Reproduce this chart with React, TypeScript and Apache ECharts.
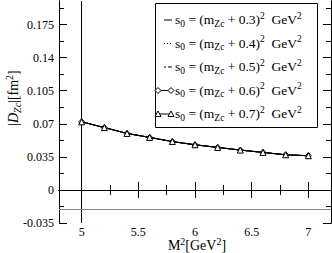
import React, { useEffect, useRef } from "react";
import * as echarts from "echarts";

const xValues = [5, 5.2, 5.4, 5.6, 5.8, 6, 6.2, 6.4, 6.6, 6.8, 7];
const s03 = [0.0721, 0.066, 0.0598, 0.0556, 0.0512, 0.0478, 0.045, 0.0422, 0.0397, 0.0372, 0.0362];
const s04 = [0.0721, 0.066, 0.0598, 0.0556, 0.0512, 0.0478, 0.045, 0.0422, 0.0397, 0.0372, 0.0362];
const s05 = [0.0721, 0.066, 0.0598, 0.0556, 0.0512, 0.0478, 0.045, 0.0422, 0.0397, 0.0372, 0.0362];
const s06 = [0.0721, 0.066, 0.0598, 0.0556, 0.0512, 0.0478, 0.045, 0.0422, 0.0397, 0.0372, 0.0362];
const s07 = [0.0721, 0.066, 0.0598, 0.0556, 0.0512, 0.0478, 0.045, 0.0422, 0.0397, 0.0372, 0.0362];
const offsets = ["0.3", "0.4", "0.5", "0.6", "0.7"];
const xMajor = [5, 5.5, 6, 6.5, 7];
const xMinor = [5.25, 5.75, 6.25, 6.75];
const yMajor = [-0.035, 0, 0.035, 0.07, 0.105, 0.14, 0.175];
const yMinor = [-0.0175, 0.0175, 0.0525, 0.0875, 0.1225, 0.1575, 0.1925];
const yLabels = ["-0.035", "0", "0.035", "0.07", "0.105", "0.14", "0.175"];
const verticalLineX = 5;
const horizontalLineY = -0.017;

const FONT = "Liberation Serif";

export default function App() {
  const ref = useRef<HTMLDivElement>(null);
  useEffect(() => {
    if (!ref.current) return;
    const chart = echarts.init(ref.current, null, { renderer: "svg" });
    const names = offsets.map((o) => "s0=(mZc+" + o + ")^2");
    const pair = (ys: number[]) => xValues.map((x, i) => [x, ys[i]]);
    const seriesData = [s03, s04, s05, s06, s07];
    const lineTypes: any[] = ["solid", [1, 2], [4, 2, 1, 2], "solid", "solid"];
    const symbols = ["none", "none", "none", "diamond", "triangle"];
    const axisLine = { show: true, lineStyle: { color: "#000", width: 1 } };
    const mkX = (pos: string, vals: number[], len: number, label: boolean) => ({
      type: "value",
      min: 4.8,
      max: 7.2,
      position: pos,
      axisLine,
      splitLine: { show: false },
      axisTick: { show: true, inside: true, length: len, customValues: vals, lineStyle: { color: "#000", width: 1 } },
      axisLabel: label
        ? { show: true, customValues: vals, color: "#000", fontFamily: FONT, fontSize: 12, margin: 3 }
        : { show: false },
    });
    const mkY = (pos: string, vals: number[], len: number, label: boolean) => ({
      type: "value",
      min: -0.035,
      max: 0.2,
      position: pos,
      axisLine,
      splitLine: { show: false },
      axisTick: { show: true, inside: true, length: len, customValues: vals, lineStyle: { color: "#000", width: 1 } },
      axisLabel: label
        ? {
            show: true,
            customValues: vals,
            color: "#000",
            fontFamily: FONT,
            fontSize: 12,
            margin: 5,
            formatter: (v: number) => {
              const i = yMajor.findIndex((m) => Math.abs(m - v) < 1e-9);
              return i >= 0 ? yLabels[i] : "";
            },
          }
        : { show: false },
    });
    const richText = {
      n: { fontFamily: FONT, fontSize: 13.5, fill: "#000", lineHeight: 18, verticalAlign: "middle" },
      sub: { fontFamily: FONT, fontSize: 9.5, fill: "#000", verticalAlign: "bottom", lineHeight: 9 },
      sup: { fontFamily: FONT, fontSize: 9.5, fill: "#000", verticalAlign: "top", lineHeight: 9 },
    };
    // manual legend
    const legendTop = 3;
    const legendLeft = 155;
    const rowY = [19.5, 43, 66.5, 90, 113.5];
    const legendEls: any[] = [
      {
        type: "rect",
        shape: { x: legendLeft + 0.5, y: legendTop + 0.5, width: 162, height: 124 },
        style: { fill: "#fff", stroke: "#000", lineWidth: 1 },
        z: 10,
      },
    ];
    const diamond = (cx: number, cy: number) => ({
      type: "polygon",
      shape: { points: [[cx, cy - 3], [cx + 3, cy], [cx, cy + 3], [cx - 3, cy]] },
      style: { fill: "#fff", stroke: "#000", lineWidth: 1 },
      z: 12,
    });
    const tri = (cx: number, cy: number) => ({
      type: "polygon",
      shape: { points: [[cx, cy - 3], [cx + 3, cy + 2.5], [cx - 3, cy + 2.5]] },
      style: { fill: "#fff", stroke: "#000", lineWidth: 1 },
      z: 12,
    });
    offsets.forEach((o, i) => {
      const cy = rowY[i];
      const x1 = i < 3 ? 164 : 158;
      legendEls.push({
        type: "line",
        shape: { x1, y1: cy + 0.5, x2: 172, y2: cy + 0.5 },
        style: { stroke: "#000", lineWidth: 1, lineDash: i === 1 ? [1, 2] : i === 2 ? [2, 2, 4, 2] : null },
        z: 11,
      });
      if (i === 3) legendEls.push(diamond(158, cy + 0.5), diamond(171, cy + 0.5));
      if (i === 4) legendEls.push(tri(158, cy + 0.5), tri(171, cy + 0.5));
      legendEls.push({
        type: "text",
        x: 175,
        y: cy,
        z: 11,
        style: {
          text: "{n|s}{sub|0}{n| = (m}{sub|Zc}{n| + " + o + ")}{sup|2}{n|  GeV}{sup|2}",
          verticalAlign: "middle",
          align: "left",
          rich: richText,
        },
      });
    });
    chart.setOption({
      animation: false,
      backgroundColor: "#fff",
      grid: { left: 59, right: 1, top: 1, bottom: 30, containLabel: false },
      xAxis: [mkX("bottom", xMajor, 8, true), mkX("bottom", xMinor, 5, false), mkX("top", xMajor, 8, false), mkX("top", xMinor, 5, false)],
      yAxis: [mkY("left", yMajor, 8, true), mkY("left", yMinor, 5, false), mkY("right", yMajor, 8, false), mkY("right", yMinor, 5, false)],
      series: seriesData.map((d, i) => ({
        type: "line",
        name: names[i],
        xAxisIndex: 0,
        yAxisIndex: 0,
        data: pair(d),
        symbol: symbols[i],
        symbolSize: 6,
        showSymbol: symbols[i] !== "none",
        lineStyle: { color: "#000", width: 1, type: lineTypes[i] },
        itemStyle: { color: "#fff", borderColor: "#000", borderWidth: 1 },
        z: 2 + i,
        markLine:
          i === 0
            ? {
                silent: true,
                symbol: "none",
                label: { show: false },
                data: [
                  { xAxis: verticalLineX, lineStyle: { color: "#000", width: 1, type: "solid" } },
                  { yAxis: horizontalLineY, lineStyle: { color: "#888", width: 1, type: "solid" } },
                ],
              }
            : undefined,
      })),
      graphic: [
        ...legendEls,
        {
          type: "text",
          x: 13,
          y: 98,
          rotation: Math.PI / 2,
          style: {
            text: "{n||}{i|D}{si|Zc}{n||[fm}{sup|2}{n|]}",
            align: "center",
            verticalAlign: "middle",
            rich: {
              n: { fontFamily: FONT, fontSize: 14, fill: "#000", lineHeight: 18, verticalAlign: "middle" },
              i: { fontFamily: FONT, fontSize: 14, fontStyle: "italic", fill: "#000", lineHeight: 18, verticalAlign: "middle" },
              si: { fontFamily: FONT, fontSize: 10, fontStyle: "italic", fill: "#000", verticalAlign: "bottom", lineHeight: 9 },
              sup: { fontFamily: FONT, fontSize: 10, fill: "#000", verticalAlign: "top", lineHeight: 9 },
            },
          },
        },
        {
          type: "text",
          x: 197,
          y: 245,
          style: {
            text: "{n|M}{sup|2}{n|[GeV}{sup|2}{n|]}",
            align: "center",
            verticalAlign: "middle",
            rich: {
              n: { fontFamily: FONT, fontSize: 14, fill: "#000", lineHeight: 18, verticalAlign: "middle" },
              sup: { fontFamily: FONT, fontSize: 10, fill: "#000", verticalAlign: "top", lineHeight: 9 },
            },
          },
        },
      ],
    });
    return () => chart.dispose();
  }, []);
  return <div ref={ref} style={{ position: "fixed", left: 0, top: 0, width: 332, height: 253 }} />;
}
